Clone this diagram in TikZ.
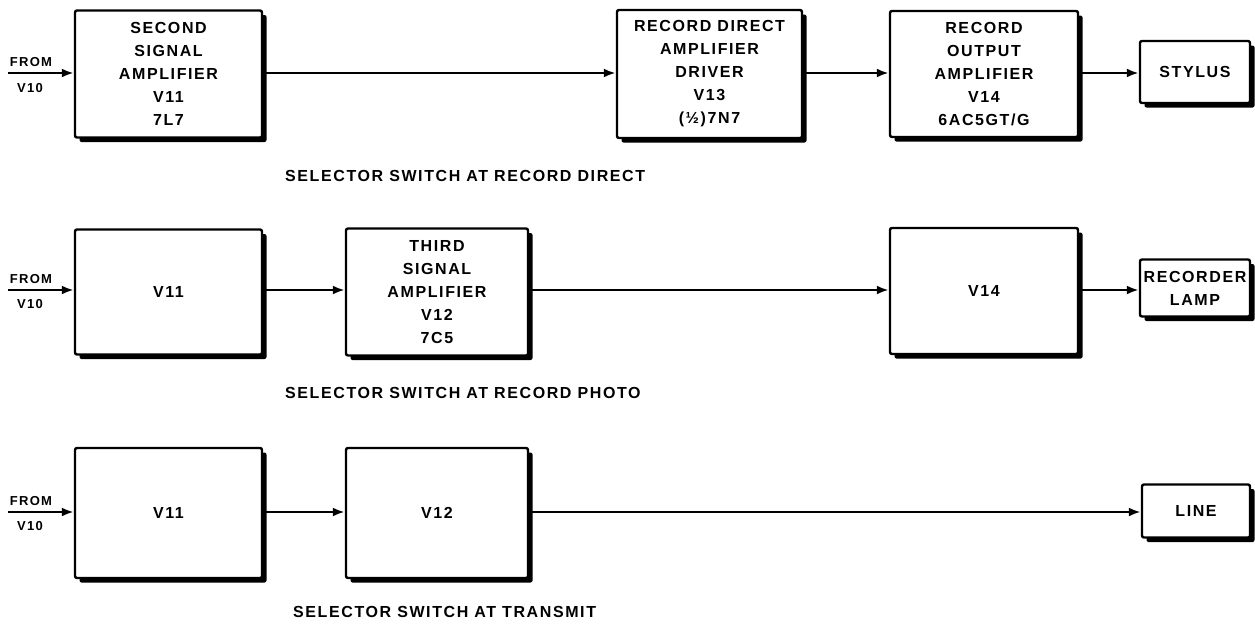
\documentclass[tikz,border=0pt]{standalone}
\usepackage{fontspec}
\newfontfamily\lf[LetterSpace=10]{Liberation Sans}
\usetikzlibrary{shadows,arrows.meta}
\tikzset{
  blk/.style={draw, line width=2.4pt, fill=white, rounded corners=2pt, align=center,
    font=\lf\bfseries\fontsize{16}{23}\selectfont, inner sep=0pt,
    drop shadow={shadow xshift=4.5pt, shadow yshift=-4.5pt, fill=black, opacity=1}},
  conn/.style={line width=2.4pt, -{Latex[length=12pt,width=9pt]}},
  captxt/.style={anchor=west, inner sep=0pt, font=\lf\bfseries\fontsize{16}{16}\selectfont},
  src/.style={inner sep=0pt, font=\lf\bfseries\fontsize{13}{13}\selectfont}
}
\begin{document}
\begin{tikzpicture}[x=1pt,y=-1pt]
\useasboundingbox (0,0) rectangle (1255,625);
% ---------- Row 1 ----------
\node[blk, minimum width=187pt, minimum height=127pt] (a1) at (168.5,74) {SECOND\\SIGNAL\\AMPLIFIER\\V11\\7L7};
\node[blk, minimum width=185pt, minimum height=128pt] (a2) at (709.5,74) {RECORD DIRECT\\AMPLIFIER\\DRIVER\\V13\\(½)7N7};
\node[blk, minimum width=188pt, minimum height=126pt] (a3) at (984,74) {RECORD\\OUTPUT\\AMPLIFIER\\V14\\6AC5GT/G};
\node[blk, minimum width=110pt, minimum height=62pt] (a4) at (1195,72) {STYLUS};
\coordinate (ain) at (8,73);
\node[src] (af) at (31,62) {FROM};
\node[src] (av) at (30,88) {V10};
\draw[conn] (ain) -- (a1.west |- ain);
\draw[conn] (a1.east |- ain) -- (a2.west |- ain);
\draw[conn] (a2.east |- ain) -- (a3.west |- ain);
\draw[conn] (a3.east |- ain) -- (a4.west |- ain);
\node[captxt] (al) at (285,176) {SELECTOR SWITCH AT RECORD DIRECT};
% ---------- Row 2 ----------
\node[blk, minimum width=187pt, minimum height=125pt] (b1) at (168.5,292) {V11};
\node[blk, minimum width=182pt, minimum height=127pt] (b2) at (437,292) {THIRD\\SIGNAL\\AMPLIFIER\\V12\\7C5};
\node[blk, minimum width=188pt, minimum height=126pt] (b3) at (984,291) {V14};
\node[blk, minimum width=110pt, minimum height=57pt] (b4) at (1195,288) {RECORDER\\LAMP};
\coordinate (bin) at (8,290);
\node[src] (bf) at (31,279) {FROM};
\node[src] (bv) at (30,304) {V10};
\draw[conn] (bin) -- (b1.west |- bin);
\draw[conn] (b1.east |- bin) -- (b2.west |- bin);
\draw[conn] (b2.east |- bin) -- (b3.west |- bin);
\draw[conn] (b3.east |- bin) -- (b4.west |- bin);
\node[captxt] (bl) at (285,393) {SELECTOR SWITCH AT RECORD PHOTO};
% ---------- Row 3 ----------
\node[blk, minimum width=187pt, minimum height=130pt] (c1) at (168.5,513) {V11};
\node[blk, minimum width=182pt, minimum height=130pt] (c2) at (437,513) {V12};
\node[blk, minimum width=108pt, minimum height=53pt] (c3) at (1196,511) {LINE};
\coordinate (cin) at (8,512);
\node[src] (cf) at (31,501) {FROM};
\node[src] (cv) at (30,526) {V10};
\draw[conn] (cin) -- (c1.west |- cin);
\draw[conn] (c1.east |- cin) -- (c2.west |- cin);
\draw[conn] (c2.east |- cin) -- (c3.west |- cin);
\node[captxt] (cl) at (293,612) {SELECTOR SWITCH AT TRANSMIT};
\end{tikzpicture}
\end{document}
